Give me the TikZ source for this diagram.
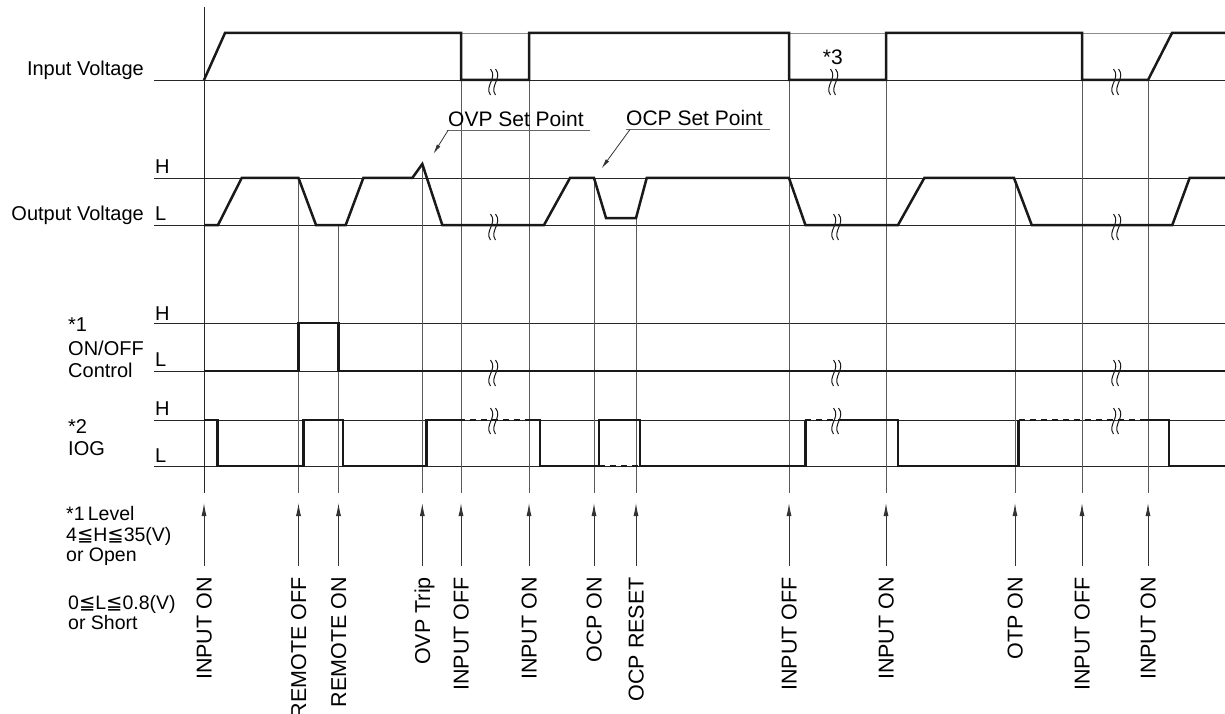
\documentclass[tikz,border=0pt]{standalone}
\usepackage{fontspec}
\setmainfont{Liberation Sans}
\newfontfamily\symfont{DejaVu Sans}
\usetikzlibrary{arrows.meta}
\newcommand{\leqsym}{{\symfont ≦}}
\begin{document}
\begin{tikzpicture}[x=1pt,y=-1pt,
  sig/.style={line width=2.5pt, line join=miter, black!90},
  dsig/.style={line width=2.3pt, dash pattern=on 6pt off 5pt, black!90},
  refl/.style={line width=0.8pt, black!85},
  evl/.style={line width=0.8pt, black!65},
  brk/.style={line width=1pt, black!90},
  arr/.style={line width=0.9pt, black!80, -{Latex[length=13pt,width=5pt]}},
  lead/.style={line width=0.8pt, black!80, -{Latex[length=10pt,width=4pt]}},
  lbl/.style={inner sep=0pt, font=\fontsize{20}{22}\selectfont},
  note/.style={inner sep=0pt, font=\fontsize{19.5}{20}\selectfont},
  ann/.style={inner sep=0pt, font=\fontsize{21}{23}\selectfont},
  evlabel/.style={inner sep=0pt, rotate=90, anchor=base east, font=\fontsize{21.5}{24}\selectfont}
]
\useasboundingbox (0,0) rectangle (1225,714);

% ---------- reference lines ----------
\draw[refl] (154,80) -- (1225,80);
\draw[line width=0.8pt, black!45] (225,33) -- (1225,33);
\draw[refl] (154,178) -- (1225,178);
\draw[refl] (154,225) -- (1225,225);
\draw[refl] (154,323) -- (1225,323);
\draw[refl] (154,371) -- (1225,371);
\draw[refl] (154,420) -- (1225,420);
\draw[refl] (154,466) -- (1225,466);

% ---------- event lines, arrows, labels ----------
\foreach \n/\x/\t/\lab in {
  1/204/7/INPUT ON,
  2/298.5/178/REMOTE OFF,
  3/338.5/225/REMOTE ON,
  4/422.3/164/OVP Trip,
  5/461/33/INPUT OFF,
  6/529/33/INPUT ON,
  7/594/178/OCP ON,
  8/636/218/OCP RESET,
  9/789/33/INPUT OFF,
  10/886/33/INPUT ON,
  11/1015/178/OTP ON,
  12/1082/33/INPUT OFF,
  13/1148/80/INPUT ON}{
  \coordinate (e\n t) at (\x,\t);
  \coordinate (e\n b) at (\x,493);
  \coordinate (e\n a) at (\x,566);
  \coordinate (e\n h) at (\x,503);
  \draw[evl] (e\n t) -- (e\n b);
  \draw[arr] (e\n a) -- (e\n h);
  \node[evlabel] (l\n) at (\x+7.7,577) {\lab};
}
\draw[line width=0.9pt, black!85] (e1t) -- (e1b);

% ---------- Input Voltage ----------
\draw[sig] (204,80) -- (225,33) -- (461,33) -- (461,80) -- (529,80) -- (529,33)
  -- (789,33) -- (789,80) -- (886,80) -- (886,33) -- (1082,33) -- (1082,80)
  -- (1148,80) -- (1172,33) -- (1225,33);

% ---------- Output Voltage ----------
\draw[sig] (204,225) -- (218,225) -- (241.7,178) -- (298.5,178) -- (316,225)
  -- (345.7,225) -- (363.3,178) -- (412.3,178) -- (422.3,164) -- (442.3,225)
  -- (544,225) -- (570,178) -- (594,178) -- (606,218) -- (636,218) -- (646.7,178)
  -- (789,178) -- (805.4,225) -- (898,225) -- (924.3,178) -- (1014,178)
  -- (1031.7,225) -- (1172.3,225) -- (1189.6,178) -- (1225,178);

% ---------- ON/OFF Control ----------
\draw[sig] (204,371) -- (298.5,371) -- (298.5,323) -- (338.5,323) -- (338.5,371) -- (1225,371);

% ---------- IOG ----------
\draw[sig] (204,420) -- (217.6,420) -- (217.6,466) -- (303.7,466) -- (303.7,420)
  -- (343.2,420) -- (343.2,466) -- (426.3,466) -- (426.3,420) -- (458.7,420);
\draw[dsig] (458.7,420) -- (528,420);
\draw[sig] (528,420) -- (540,420) -- (540,466) -- (599,466) -- (599,420)
  -- (640,420) -- (640,466) -- (805.3,466) -- (805.3,420);
\draw[dsig] (599,466) -- (640,466);
\draw[dsig] (805.3,420) -- (839,420);
\draw[sig] (839,420) -- (898,420) -- (898,466) -- (1018.5,466) -- (1018.5,420);
\draw[dsig] (1018.5,420) -- (1146,420);
\draw[sig] (1146,420) -- (1169,420) -- (1169,466) -- (1225,466);

% ---------- break marks ----------
\foreach \bx/\by in {492/81, 832/81, 1115/81,
                     492/226, 835/226, 1115/226,
                     492/372, 835/372, 1115/372,
                     492/420, 835/420, 1115/420}{
  \draw[brk] (\bx-1.5,\by-12) .. controls (\bx+6,\by-3) and (\bx-8,\by+5) .. (\bx-1.5,\by+14);
  \draw[brk] (\bx+3.5,\by-12) .. controls (\bx+11,\by-3) and (\bx-3,\by+5) .. (\bx+3.5,\by+14);
}

% ---------- left labels ----------
\node[lbl, anchor=base east] (inv) at (144,76) {Input Voltage};
\node[lbl, anchor=base east] (outv) at (144,220) {Output Voltage};
\node[lbl, anchor=base west] (oh) at (155,173.3) {H};
\node[lbl, anchor=base west] (ol) at (155,220) {L};
\node[lbl, anchor=base west] (ch) at (155,320) {H};
\node[lbl, anchor=base west] (cl) at (155,366.7) {L};
\node[lbl, anchor=base west] (gh) at (155,415) {H};
\node[lbl, anchor=base west] (gl) at (155,462.7) {L};
\node[lbl, anchor=base west] (c1) at (68,331) {*1};
\node[lbl, anchor=base west] (c2) at (68,355) {ON/OFF};
\node[lbl, anchor=base west] (c3) at (68,377) {Control};
\node[lbl, anchor=base west] (g1) at (68,433.3) {*2};
\node[lbl, anchor=base west] (g2) at (68,455) {IOG};

% ---------- level notes ----------
\node[note, anchor=base west] (n1) at (66,520.7) {*1\,Level};
\node[note, anchor=base west] (n2) at (66,541.7) {4\leqsym H\leqsym 35(V)};
\node[note, anchor=base west] (n3) at (66,561) {or Open};
\node[note, anchor=base west] (n4) at (68,609.3) {0\leqsym L\leqsym 0.8(V)};
\node[note, anchor=base west] (n5) at (68,629) {or Short};

% ---------- annotations ----------
\node[ann, anchor=base west] (ovp) at (448,126.7) {OVP Set Point};
\coordinate (ovpu1) at (446.7,130);
\coordinate (ovpu2) at (590,130);
\coordinate (ovpl) at (448.3,130);
\coordinate (ovpt) at (433.3,154);
\draw[line width=0.8pt, black!60] (ovpu1) -- (ovpu2);
\draw[lead] (ovpl) -- (ovpt);

\node[ann, anchor=base west] (ocp) at (626,126) {OCP Set Point};
\coordinate (ocpu1) at (626,129.5);
\coordinate (ocpu2) at (770,129.5);
\coordinate (ocpl) at (630,129.5);
\coordinate (ocpt) at (601.5,168.5);
\draw[line width=0.8pt, black!60] (ocpu1) -- (ocpu2);
\draw[lead] (ocpl) -- (ocpt);

\node[ann, anchor=base west] (n3star) at (822.7,65) {*3};
\end{tikzpicture}
\end{document}
